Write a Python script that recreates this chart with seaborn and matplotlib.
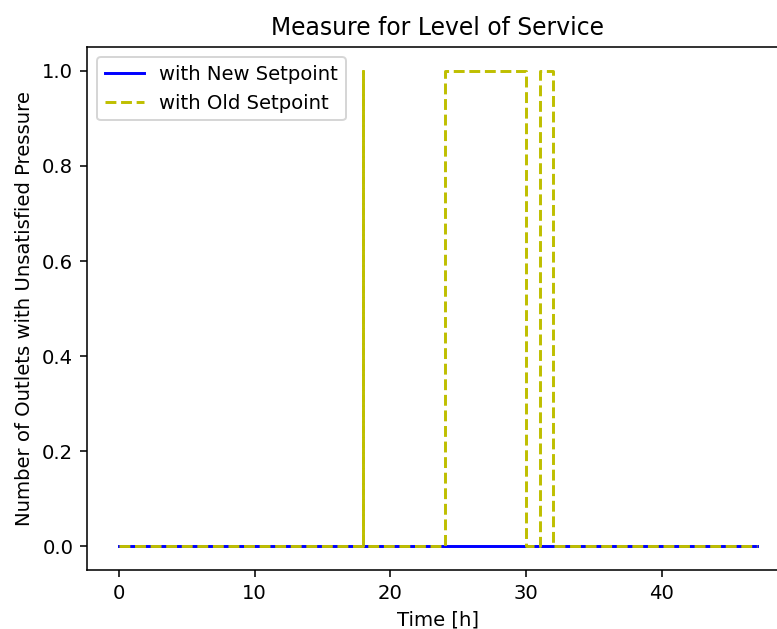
import pandas as pd
import matplotlib
matplotlib.use("Agg")
import matplotlib.pyplot as plt
import seaborn as sns

# Данные: время (ч), 18 повторяется дважды -> мгновенный всплеск
hours = [0, 1, 2, 3, 4, 5, 6, 7, 8, 9, 10, 11, 12, 13, 14, 15, 16, 17, 18, 18,
         19, 20, 21, 22, 23, 24, 25, 26, 27, 28, 29, 30, 31, 32, 33, 34, 35,
         36, 37, 38, 39, 40, 41, 42, 43, 44, 45, 46, 47]
new_setpoint = [0, 0, 0, 0, 0, 0, 0, 0, 0, 0, 0, 0, 0, 0, 0, 0, 0, 0, 0, 0,
                0, 0, 0, 0, 0, 0, 0, 0, 0, 0, 0, 0, 0, 0, 0, 0, 0,
                0, 0, 0, 0, 0, 0, 0, 0, 0, 0, 0, 0]
old_setpoint = [0, 0, 0, 0, 0, 0, 0, 0, 0, 0, 0, 0, 0, 0, 0, 0, 0, 0, 1, 0,
                0, 0, 0, 0, 0, 1, 1, 1, 1, 1, 1, 0, 1, 0, 0, 0, 0,
                0, 0, 0, 0, 0, 0, 0, 0, 0, 0, 0, 0]

df = pd.DataFrame({"time": hours, "new": new_setpoint, "old": old_setpoint})

DPI = 141
fig = plt.figure(figsize=(777 / DPI, 629 / DPI), dpi=DPI)
ax = fig.add_axes([0.112, 0.094, 0.903, 0.831])

sns.lineplot(data=df, x="time", y="new", color="b", estimator=None, sort=False,
             drawstyle="steps-post", label="with New Setpoint", ax=ax)
sns.lineplot(data=df, x="time", y="old", color="y", estimator=None, sort=False,
             drawstyle="steps-post", linestyle="--", label="with Old Setpoint", ax=ax)

ax.set_title("Measure for Level of Service")
ax.set_xlabel("Time [h]")
ax.set_ylabel("Number of Outlets with Unsatisfied Pressure")
ax.legend(loc="upper left")

fig.savefig("out.png", dpi=DPI)
